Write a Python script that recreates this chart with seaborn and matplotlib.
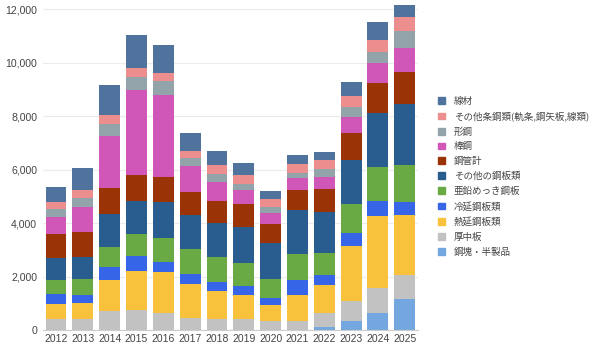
import matplotlib
matplotlib.use("Agg")
import matplotlib.pyplot as plt
import matplotlib.patches as mpatches
from matplotlib.ticker import FuncFormatter, FixedLocator
import seaborn as sns
import pandas as pd
import numpy as np

years = [str(y) for y in range(2012, 2026)]

# series values (stack order: bottom -> top)
kouhen_hanseihin = [0, 0, 0, 0, 0, 0, 0, 0, 0, 0, 123, 336, 647, 1170]
atsunaka = [400, 400, 699, 748, 647, 467, 419, 411, 336, 336, 501, 736, 912, 886]
netsuen = [590, 598, 1181, 1458, 1521, 1263, 1047, 897, 587, 972, 1058, 2067, 2691, 2243]
reien = [355, 310, 486, 561, 374, 374, 340, 348, 262, 561, 374, 475, 572, 497]
aen = [523, 587, 748, 822, 886, 912, 912, 860, 736, 983, 811, 1088, 1282, 1372]
sonota_kouhan = [811, 845, 1234, 1245, 1368, 1282, 1293, 1334, 1349, 1645, 1555, 1652, 2019, 2273]
koukan = [908, 923, 949, 961, 935, 871, 819, 852, 692, 748, 837, 1028, 1121, 1215]
boukou = [635, 923, 1955, 3177, 3054, 961, 714, 531, 411, 426, 471, 591, 725, 897]
katakou = [300, 359, 437, 497, 535, 288, 295, 232, 213, 217, 273, 355, 434, 635]
sonota_joukou = [260, 288, 348, 314, 299, 292, 318, 329, 303, 318, 348, 407, 456, 523]
senzai = [572, 811, 1121, 1245, 1035, 643, 546, 437, 295, 325, 318, 527, 665, 437]

series_names = ["鋼塊・半製品", "厚中板", "熱延鋼板類", "冷延鋼板類", "亜鉛めっき鋼板",
                "その他の鋼板類", "鋼管計", "棒鋼", "形鋼",
                "その他条鋼類(軌条,鋼矢板,線類)", "線材"]
series_values = [kouhen_hanseihin, atsunaka, netsuen, reien, aen, sonota_kouhan,
                 koukan, boukou, katakou, sonota_joukou, senzai]
series_colors = ["#74A7DF", "#C2C2C2", "#F9C23C", "#3765E8", "#6AAA45",
                 "#2A5D8F", "#9A3306", "#D057B8", "#92A4AA", "#EC8E8E", "#50739D"]

yticks = [0, 2000, 4000, 6000, 8000, 10000, 12000]

sns.set_theme(style="white")
plt.rcParams["font.family"] = ["Liberation Sans", "Noto Sans CJK JP", "DejaVu Sans"]

fig = plt.figure(figsize=(6.0, 3.49), dpi=100)
ax = fig.add_axes([0.071, 0.0544, 0.626, 0.9456])

cum = np.cumsum(np.array(series_values, dtype=float), axis=0)
for i in range(len(series_names) - 1, -1, -1):
    df = pd.DataFrame({"year": years, "value": cum[i]})
    sns.barplot(data=df, x="year", y="value", order=years, color=series_colors[i],
                saturation=1, width=0.78, ax=ax, errorbar=None, linewidth=0)

ax.set_xlim(-0.5, len(years) - 0.5)
ax.set_ylim(0, 12340)
ax.set_xlabel("")
ax.set_ylabel("")
ax.yaxis.set_major_locator(FixedLocator(yticks))
ax.yaxis.set_major_formatter(FuncFormatter(lambda v, p: f"{int(v):,}"))
ax.grid(axis="y", color="#ECECEC", linewidth=0.8)
ax.set_axisbelow(True)
for s in ["top", "right", "left"]:
    ax.spines[s].set_visible(False)
ax.spines["bottom"].set_color("#CCCCCC")
ax.spines["bottom"].set_linewidth(0.8)
ax.tick_params(axis="y", length=0, pad=4, labelsize=7.6, labelcolor="#444444")
ax.tick_params(axis="x", length=0, pad=3, labelsize=7.5, labelcolor="#444444")
ax.set_xticks(np.arange(-0.5, len(years), 1.0), minor=True)
ax.tick_params(axis="x", which="minor", length=3, color="#CCCCCC", width=0.8)

handles = [mpatches.Patch(color=series_colors[i], label=series_names[i])
           for i in range(len(series_names) - 1, -1, -1)]
leg = fig.legend(handles=handles, loc="upper left", bbox_to_anchor=(0.722, 0.737),
                 frameon=False, handlelength=0.72, handleheight=0.72,
                 handletextpad=0.95, labelspacing=0.6, borderpad=0,
                 prop={"family": ["Noto Sans CJK JP", "DejaVu Sans"], "size": 6.85})
for t in leg.get_texts():
    t.set_color("#444444")

fig.savefig("out.png", dpi=100)
